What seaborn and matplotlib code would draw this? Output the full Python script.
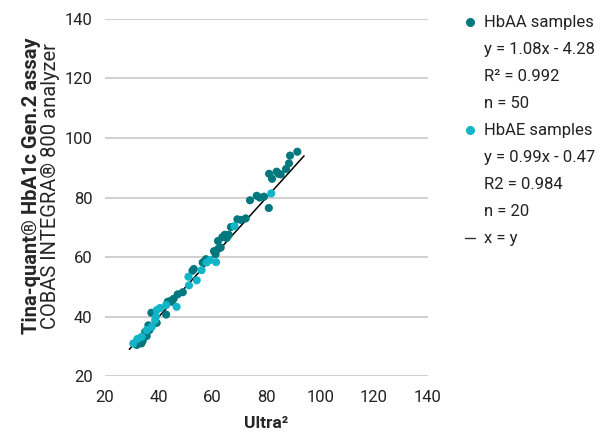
import pandas as pd
import seaborn as sns
import matplotlib.pyplot as plt
from matplotlib.lines import Line2D

# dados
hbaa_x = [91.5, 88.8, 88.4, 87.3, 85.3, 83.8, 81.0, 82.1, 79.1, 76.4,
          73.9, 80.9, 72.3, 69.2, 66.8, 65.2, 63.6, 62.0, 63.0, 62.1,
          61.1, 56.3, 52.5, 48.9, 44.4, 44.8, 37.2, 42.7, 36.1, 34.9,
          34.0, 32.4, 31.0, 64.5, 60.5, 57.5, 53.0, 47.0, 45.5, 43.3,
          39.2, 36.5, 33.0, 31.8, 35.5, 70.5, 77.5, 84.5, 66.0, 33.5]
hbaa_y = [95.4, 94.1, 91.5, 89.6, 87.8, 88.7, 88.0, 86.3, 80.3, 80.6,
          79.1, 76.5, 73.0, 72.7, 70.1, 66.4, 66.7, 65.4, 63.2, 62.8,
          61.0, 58.2, 55.4, 48.2, 45.3, 45.0, 41.3, 40.7, 37.1, 34.9,
          31.9, 31.5, 31.0, 67.5, 62.0, 59.3, 56.0, 47.5, 46.0, 45.0,
          37.9, 35.5, 32.7, 30.5, 33.5, 72.5, 80.0, 88.0, 67.5, 31.0]
hbae_x = [81.8, 68.1, 59.0, 57.8, 61.3, 55.9, 51.0, 54.1, 51.2, 46.6,
          42.7, 40.4, 39.2, 38.6, 37.4, 35.5, 33.6, 30.5, 38.9, 32.0]
hbae_y = [81.4, 70.4, 59.0, 58.2, 58.3, 55.6, 53.4, 52.2, 50.5, 43.3,
          43.9, 42.9, 42.2, 38.8, 36.6, 35.5, 33.2, 31.0, 40.0, 32.5]
linha_xy = [29, 94]

legenda = ["HbAA samples", "y = 1.08x - 4.28", "R² = 0.992", "n = 50",
           "HbAE samples", "y = 0.99x - 0.47", "R2 = 0.984", "n = 20",
           "x = y"]

cor_aa = "#00787d"
cor_ae = "#12b4c8"

df = pd.concat([
    pd.DataFrame({"x": hbaa_x, "y": hbaa_y, "grupo": "HbAA"}),
    pd.DataFrame({"x": hbae_x, "y": hbae_y, "grupo": "HbAE"}),
])

sns.set_style("white")
plt.rcParams["font.family"] = ["Roboto", "DejaVu Sans"]

fig = plt.figure(figsize=(6.11, 4.41), dpi=100)
ax = fig.add_axes([0.172, 0.147, 0.528, 0.81])

sns.lineplot(x=linha_xy, y=linha_xy, color="black", linewidth=1.1, ax=ax)
sns.scatterplot(data=df, x="x", y="y", hue="grupo",
                palette={"HbAA": cor_aa, "HbAE": cor_ae},
                s=34, edgecolor="none", legend=False, ax=ax, zorder=3)

ax.set_xlim(20, 140)
ax.set_ylim(20, 140)
ax.set_xticks(range(20, 141, 20))
ax.set_yticks(range(20, 141, 20))
ax.grid(axis="y", color="#c8c8c8", linewidth=1.2)
ax.grid(axis="x", visible=False)
sns.despine(ax=ax, left=True, bottom=True)
ax.tick_params(axis="x", labelsize=12, colors="#222222", length=0, pad=10)
ax.tick_params(axis="y", labelsize=12, labelcolor="#222222", color="#c8c8c8",
               length=5, width=1.2, pad=4)

ax.set_xlabel("Ultra²", fontsize=12.5, fontweight="bold", labelpad=8)
ax.set_ylabel("")
fig.text(0.052, 0.578, "Tina-quant® HbA1c Gen.2 assay", rotation=90,
         ha="center", va="center", fontsize=14.5, fontweight="bold")
fig.text(0.083, 0.578, "COBAS INTEGRA® 800 analyzer", rotation=90,
         ha="center", va="center", fontsize=14.5)

vazio = Line2D([], [], linestyle="none", marker=None)
handles = [Line2D([], [], linestyle="none", marker="o", color=cor_aa, markersize=5.5),
           vazio, vazio, vazio,
           Line2D([], [], linestyle="none", marker="o", color=cor_ae, markersize=5.5),
           vazio, vazio, vazio,
           Line2D([], [], color="#333333", linewidth=1)]
ax.legend(handles, legenda, loc="upper left", bbox_to_anchor=(1.07, 1.052),
          frameon=False, fontsize=12, handlelength=0.6, handletextpad=0.5,
          labelspacing=0.72, labelcolor="#222222")

plt.savefig("out.png", dpi=100)
